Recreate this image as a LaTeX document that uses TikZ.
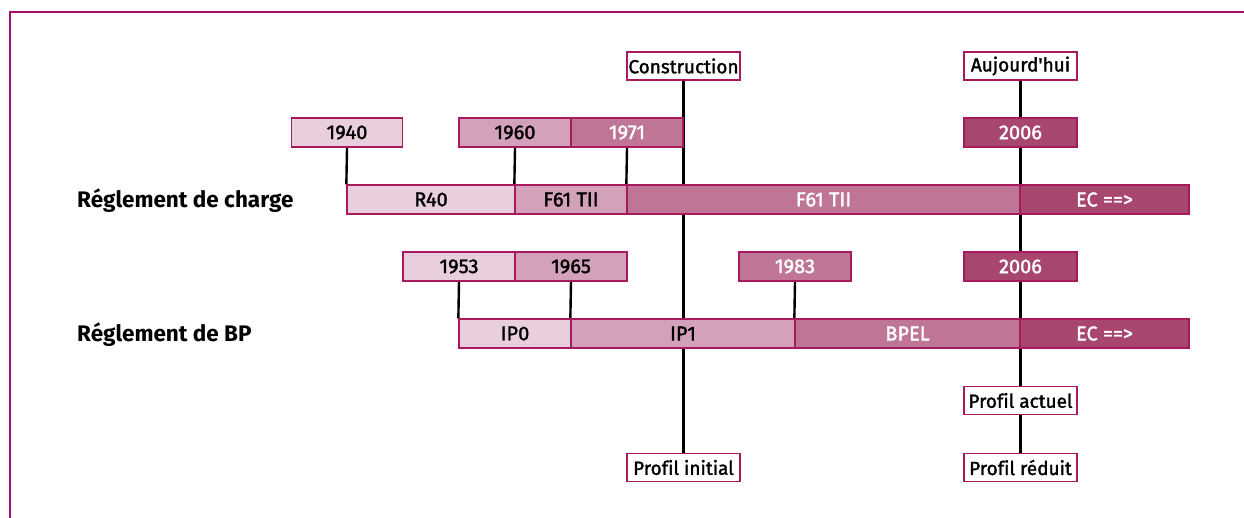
\documentclass[tikz,border=0pt]{standalone}
\usepackage{fontspec}
\setmainfont{Fira Sans}
\newfontfamily\medfont{Fira Sans}[FakeBold=1.6, Ligatures=NoCommon]
\usetikzlibrary{backgrounds}
\definecolor{cA}{HTML}{E9CFDD}
\definecolor{cB}{HTML}{D4A1BB}
\definecolor{cC}{HTML}{BE7596}
\definecolor{cD}{HTML}{A7466F}
\definecolor{bord}{HTML}{A8195E}
\definecolor{frame}{HTML}{A3106B}
\tikzset{
  cell/.style={draw=bord, line width=1.3pt, inner sep=0pt, minimum height=29pt, font=\medfont\fontsize{20}{23}\selectfont},
  wide/.style={cell, minimum width=112pt},
  lab/.style={draw=bord, fill=white, line width=1.3pt, inner sep=0pt, minimum height=28pt, minimum width=113pt, font=\medfont\fontsize{19}{22}\selectfont},
  lightc/.style={fill=cA, text=black},
  midc/.style={fill=cB, text=black},
  darkc/.style={fill=cC, text=white},
  deepc/.style={fill=cD, text=white},
  link/.style={line width=2.4pt, black},
  rowlab/.style={anchor=west, inner sep=0pt, font=\fontsize{22.5}{26}\selectfont\bfseries},
}
\begin{document}
\begin{tikzpicture}[x=1pt,y=-1pt]
\useasboundingbox (0,0) rectangle (1244,518);
\draw[frame, line width=2.2pt] (10,520) -- (10,12) -- (1246,12);

% top labels
\node[lab] (constr) at (683.5,66) {Construction};
\node[lab] (auj) at (1020.5,66) {Aujourd'hui};

% row 1 years
\node[wide, lightc, minimum width=111pt] (y1940) at (347,132.5) {1940};
\node[wide, midc] (y1960) at (515,132.5) {1960};
\node[wide, darkc] (y1971) at (627,132.5) {1971};
\node[wide, deepc, minimum width=113pt] (y2006a) at (1020.5,132.5) {2006};

% row 1 bar
\node[cell, lightc, minimum width=168pt] (r40) at (431,199.5) {R40};
\node[cell, midc, minimum width=112pt] (f61a) at (571,199.5) {F61 TII};
\node[cell, darkc, minimum width=393pt] (f61b) at (823.5,199.5) {F61 TII};
\node[cell, deepc, minimum width=169pt] (ec1) at (1104.5,199.5) {EC ==>};

% row 2 years
\node[wide, lightc] (y1953) at (459,266.5) {1953};
\node[wide, midc] (y1965) at (571,266.5) {1965};
\node[wide, darkc] (y1983) at (795,266.5) {1983};
\node[wide, deepc, minimum width=113pt] (y2006b) at (1020.5,266.5) {2006};

% row 2 bar
\node[cell, lightc, minimum width=112pt] (ip0) at (515,333.5) {IP0};
\node[cell, midc, minimum width=224pt] (ip1) at (683,333.5) {IP1};
\node[cell, darkc, minimum width=225pt] (bpel) at (907.5,333.5) {BPEL};
\node[cell, deepc, minimum width=169pt] (ec2) at (1104.5,333.5) {EC ==>};

% bottom labels
\node[lab] (pact) at (1020.5,400.5) {Profil actuel};
\node[lab] (pini) at (683.5,467.5) {Profil initial};
\node[lab] (pred) at (1020.5,467.5) {Profil réduit};

% row labels
\node[rowlab] (rc) at (77,200.5) {Réglement de charge};
\node[rowlab] (rbp) at (77,334.5) {Réglement de BP};

\begin{scope}[on background layer]
\draw[link] (constr.south) -- (pini.north);
\draw[link] (auj.south) -- (pact.north);
\draw[link] (pact.south) -- (pred.north);
\draw[link] (y1940.south) -- (r40.north west);
\draw[link] (y1960.south) -- (f61a.north west);
\draw[link] (y1971.south) -- (f61b.north west);
\draw[link] (y1953.south) -- (ip0.north west);
\draw[link] (y1965.south) -- (ip1.north west);
\draw[link] (y1983.south) -- (bpel.north west);
\end{scope}
\end{tikzpicture}
\end{document}
